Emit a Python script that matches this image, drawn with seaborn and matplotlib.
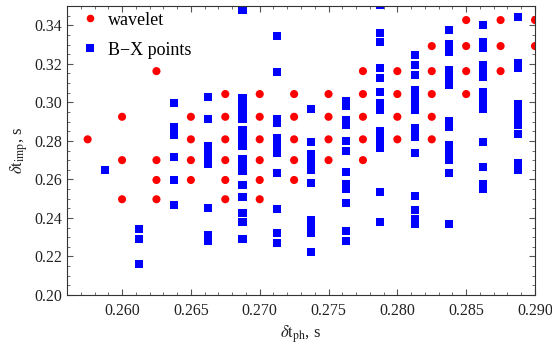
import numpy as np
import pandas as pd
import matplotlib
matplotlib.use("Agg")
import matplotlib.pyplot as plt
import seaborn as sns
from matplotlib.ticker import MultipleLocator, FormatStrFormatter

# ---------------- data ----------------
wav_x = [0.2575,
         0.2600, 0.2600, 0.2600,
         0.2625, 0.2625, 0.2625, 0.2625,
         0.2650, 0.2650, 0.2650, 0.2650,
         0.2675, 0.2675, 0.2675, 0.2675, 0.2675, 0.2675,
         0.2700, 0.2700, 0.2700, 0.2700, 0.2700, 0.2700,
         0.2725, 0.2725, 0.2725, 0.2725, 0.2725,
         0.2750, 0.2750, 0.2750, 0.2750,
         0.2775, 0.2775, 0.2775, 0.2775, 0.2775,
         0.2800, 0.2800, 0.2800, 0.2800,
         0.2825, 0.2825, 0.2825, 0.2825, 0.2825,
         0.2850, 0.2850, 0.2850, 0.2850,
         0.2875, 0.2875, 0.2875,
         0.2900, 0.2900]
wav_y = [0.2808,
         0.2925, 0.2700, 0.2497,
         0.3162, 0.2700, 0.2597, 0.2497,
         0.2925, 0.2808, 0.2700, 0.2597,
         0.3043, 0.2925, 0.2808, 0.2700, 0.2597, 0.2497,
         0.3043, 0.2925, 0.2808, 0.2700, 0.2597, 0.2497,
         0.3043, 0.2925, 0.2808, 0.2700, 0.2597,
         0.3043, 0.2925, 0.2808, 0.2700,
         0.3162, 0.3043, 0.2925, 0.2808, 0.2700,
         0.3162, 0.3043, 0.2925, 0.2808,
         0.3292, 0.3162, 0.3043, 0.2925, 0.2808,
         0.3427, 0.3292, 0.3162, 0.3043,
         0.3427, 0.3292, 0.3162,
         0.3427, 0.3292]

bx_cols = [0.25875, 0.26125, 0.26375, 0.26625, 0.26875, 0.27125, 0.27375,
           0.27625, 0.27875, 0.28125, 0.28375, 0.28625, 0.28875]
bx_vals = [
    [0.2649],
    [0.2342, 0.2290, 0.2161],
    [0.2996, 0.2872, 0.2851, 0.2830, 0.2716, 0.2597, 0.2467],
    [0.3027, 0.2913, 0.2773, 0.2747, 0.2706, 0.2680, 0.2451, 0.2311, 0.2280],
    [0.3479, 0.3022, 0.2996, 0.2965, 0.2944, 0.2913, 0.2856, 0.2815, 0.2794,
     0.2773, 0.2706, 0.2664, 0.2643, 0.2571, 0.2509, 0.2426, 0.2379, 0.2291],
    [0.3344, 0.3157, 0.2913, 0.2893, 0.2815, 0.2773, 0.2737, 0.2633, 0.2446,
     0.2322, 0.2270],
    [0.2965, 0.2794, 0.2732, 0.2711, 0.2669, 0.2649, 0.2581, 0.2389, 0.2348,
     0.2322, 0.2223],
    [0.3007, 0.2981, 0.2908, 0.2882, 0.2799, 0.2747, 0.2638, 0.2576, 0.2550,
     0.2477, 0.2332, 0.2280],
    [0.3505, 0.3359, 0.3313, 0.3178, 0.3126, 0.3053, 0.2996, 0.2960, 0.2851,
     0.2815, 0.2789, 0.2763, 0.2534, 0.2379],
    [0.3245, 0.3193, 0.3141, 0.3063, 0.3037, 0.3011, 0.2985, 0.2959, 0.2866,
     0.2840, 0.2819, 0.2736, 0.2513, 0.2441, 0.2394, 0.2368],
    [0.3375, 0.3302, 0.3261, 0.3167, 0.3141, 0.3115, 0.3089, 0.2903, 0.2871,
     0.2778, 0.2752, 0.2726, 0.2700, 0.2633, 0.2368],
    [0.3401, 0.3313, 0.3282, 0.3193, 0.3157, 0.3131, 0.3053, 0.3011, 0.2985,
     0.2965, 0.2794, 0.2664, 0.2576, 0.2550],
    [0.3443, 0.3204, 0.3178, 0.2991, 0.2950, 0.2918, 0.2882, 0.2835, 0.2685,
     0.2649],
]

labels = ["wavelet", "B\u2212X points"]

# ---------------- build table ----------------
rows = [(x, y, labels[0]) for x, y in zip(wav_x, wav_y)]
for cx, vals in zip(bx_cols, bx_vals):
    rows += [(cx, v, labels[1]) for v in vals]
df = pd.DataFrame(rows, columns=["x", "y", "series"])

sns.set_theme(style="ticks")
plt.rcParams["font.family"] = ["Liberation Serif", "DejaVu Serif"]
plt.rcParams["mathtext.fontset"] = "stix"

fig = plt.figure(figsize=(5.52, 3.46), dpi=100)
ax = fig.add_axes([67/552, 1 - 295/346, (535 - 67)/552, (295 - 6)/346])

sns.scatterplot(data=df, x="x", y="y", hue="series", style="series",
                palette={labels[0]: "#ff0000", labels[1]: "#0000ff"},
                markers={labels[0]: "o", labels[1]: "s"},
                s=30, linewidth=0, ax=ax, clip_on=True)
for coll, lab in zip(ax.collections, labels):
    coll.set_sizes([34] if lab == labels[0] else [22])

ax.set_xlim(0.256, 0.290)
ax.set_ylim(0.200, 0.350)
ax.xaxis.set_major_locator(MultipleLocator(0.005))
ax.xaxis.set_minor_locator(MultipleLocator(0.001))
ax.yaxis.set_major_locator(MultipleLocator(0.02))
ax.yaxis.set_minor_locator(MultipleLocator(0.005))
ax.xaxis.set_major_formatter(FormatStrFormatter("%.3f"))
ax.yaxis.set_major_formatter(FormatStrFormatter("%.2f"))
ax.tick_params(which="both", direction="in", top=True, right=True,
               color="#555555", labelsize=11.5, labelcolor="#222222")
ax.tick_params(which="major", length=4.5, width=0.8)
ax.tick_params(which="minor", length=2.5, width=0.6)
for sp in ax.spines.values():
    sp.set_color("#333333")
    sp.set_linewidth(0.8)
ax.tick_params(axis="x", pad=6)

ax.set_xlabel(r"$\delta\mathrm{t}_{\mathrm{ph}}$, s", fontsize=12, color="#222222", labelpad=3)
ax.set_ylabel(r"$\delta\mathrm{t}_{\mathrm{imp}}$, s", fontsize=12, color="#222222", labelpad=3)

handles, labs = ax.get_legend_handles_labels()
leg = ax.legend(handles, labs, loc="upper left", bbox_to_anchor=(10/468, 1.0 - 4/289),
                frameon=False, fontsize=13, labelspacing=0.72,
                handletextpad=0.4, borderaxespad=0.0, borderpad=0.1,
                handlelength=1.2, markerscale=1.0)
for t in leg.get_texts():
    t.set_color("black")

fig.savefig("out.png", dpi=100)
